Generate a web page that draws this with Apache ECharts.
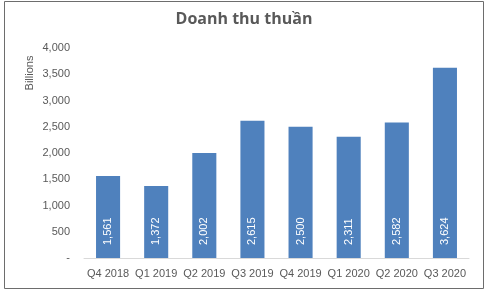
<!DOCTYPE html>
<html><head><meta charset="utf-8">
<script src="https://cdn.jsdelivr.net/npm/echarts@6/dist/echarts.min.js"></script>
<style>html,body{margin:0;padding:0;background:#fff}#c{width:488px;height:301px}</style>
</head><body><div id="c"></div>
<script>
var categories = ['Q4 2018','Q1 2019','Q2 2019','Q3 2019','Q4 2019','Q1 2020','Q2 2020','Q3 2020'];
var revenue = [1561,1372,2002,2615,2500,2311,2582,3624];
var titleText = 'Doanh thu thuần';
var yName = 'Billions';

var chart = echarts.init(document.getElementById('c'), null, {renderer:'canvas'});
var tfont = 'Open Sans, Liberation Sans, sans-serif';
var font = 'Liberation Sans, Arial, sans-serif';
chart.setOption({
  animation:false,
  backgroundColor:'#fff',
  graphic:[
    {type:'rect',shape:{x:4.5,y:1.5,width:479,height:287},style:{fill:'none',stroke:'#6d6d6d',lineWidth:1},silent:true},
    {type:'text',x:30,y:73,rotation:Math.PI/2,style:{text:yName,fill:'#595959',font:'11px '+font,align:'center',verticalAlign:'middle'},silent:true}
  ],
  title:{text:titleText,left:'center',top:6,textStyle:{fontFamily:tfont,fontSize:16,fontWeight:'bold',color:'#595959'}},
  grid:{left:84,right:19,top:48,bottom:43},
  xAxis:{type:'category',data:categories,
    axisLine:{lineStyle:{color:'#d9d9d9',width:1}},axisTick:{show:false},
    axisLabel:{interval:0,color:'#595959',fontFamily:font,fontSize:11,margin:10}},
  yAxis:{type:'value',min:0,max:4000,interval:500,
    splitLine:{show:false},axisLine:{show:false},axisTick:{show:false},
    axisLabel:{color:'#595959',fontFamily:font,fontSize:11,margin:14,
      formatter:function(v){return v===0?'-':v.toLocaleString('en-US');}}},
  series:[{type:'bar',data:revenue,barWidth:'50%',itemStyle:{color:'#4f81bd'},
    label:{show:true,position:'insideBottom',rotate:90,align:'left',verticalAlign:'middle',distance:13,
      color:'#fff',fontFamily:font,fontSize:11,
      formatter:function(p){return p.value.toLocaleString('en-US');}}}]
});
</script></body></html>
